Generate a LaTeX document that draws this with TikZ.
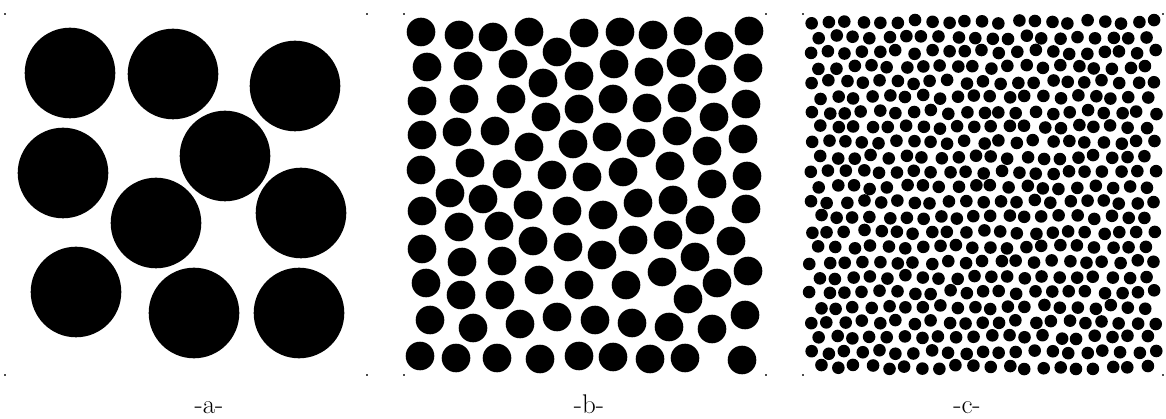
\documentclass[tikz,border=0pt]{standalone}
\begin{document}
\begin{tikzpicture}[x=1pt,y=-1pt,
  diskA/.style={fill=black},
  cornerdot/.style={fill=black!70},
  panellabel/.style={font=\fontsize{27}{30}\selectfont, anchor=base}]
\useasboundingbox (0,0) rectangle (1166,419);
% corner marks
\foreach \x/\y in {5/14,367/14,5/375,367/375,404/14,766/14,404/375,766/375,803/14,1163/14,803/375,1163/375}
  \fill[cornerdot] (\x-0.8,\y-0.8) rectangle (\x+0.8,\y+0.8);
% panel a
\foreach \x/\y in {70/73,173/74,295/86,63/173,225/156,156/223,301/213,76/292,194/313,299/313}
  \fill[diskA] (\x,\y) circle[radius=45.3pt];
% panel b
\foreach \x/\y in {421/32,459/35,493/37,529/32,557/52,584/33,620/32,653/35,688/31,719/46,749/31,
  427/67,468/66,513/64,543/83,579/76,614/64,649/72,681/63,712/79,748/68,
  422/101,464/99,511/99,546/117,579/109,613/99,647/108,682/98,714/117,746/104,
  422/135,457/132,495/131,529/147,573/144,607/137,641/143,677/131,707/151,743/139,
  421/170,470/163,507/174,552/175,587/177,623/172,670/166,712/184,747/176,
  422/211,450/193,483/199,528/205,567/211,603/215,638/203,673/200,700/220,746/209,
  459/227,499/226,533/241,568/247,602/255,633/240,668/235,695/257,731/241,422/249,
  462/262,502/261,539/280,426/283,579/285,626/285,662/272,688/299,717/283,748/271,
  461/295,500/295,430/320,473/328,520/324,557/317,595/320,632/323,669/327,712/329,745/315,
  420/356,456/358,497/358,540/359,579/356,613/357,650/359,685/358,742/360}
  \fill[diskA] (\x,\y) circle[radius=14.3pt];
% panel c
\pgfmathsetseed{4242}
\foreach \r in {0,...,23}{
  \foreach \c in {0,...,20}{
    \pgfmathtruncatemacro{\odd}{mod(\r,2)}
    \pgfmathtruncatemacro{\skip}{(\odd==1)&&(\c==20)}
    \ifnum\skip=0
      \pgfmathsetmacro{\cx}{811+\c*17.2+\odd*8.6+2.1*rand}
      \pgfmathsetmacro{\cy}{22+\r*15.0+2.1*rand}
      \fill[diskA] (\cx,\cy) circle[radius=6.3pt];
    \fi
  }
}
% labels
\node[panellabel] (la) at (209,413) {-a-};
\node[panellabel] (lb) at (589,413) {-b-};
\node[panellabel] (lc) at (967,413) {-c-};
\end{tikzpicture}
\end{document}
